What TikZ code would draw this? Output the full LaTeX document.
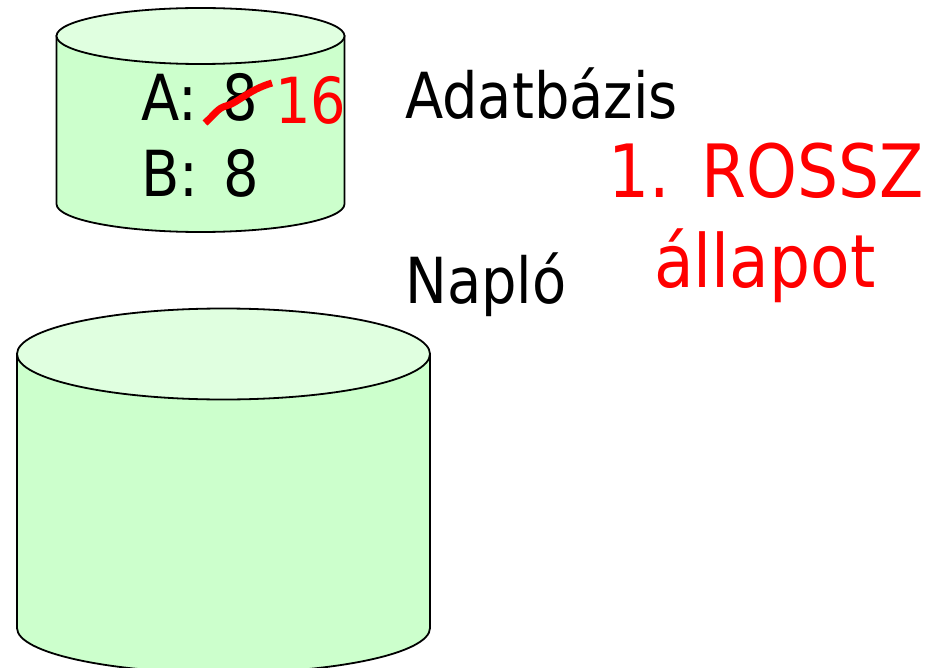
\documentclass[tikz,border=0pt]{standalone}
\usepackage{fontspec}
\setmainfont[FakeStretch=0.88,WordSpace=1.4]{DejaVu Sans}
\usetikzlibrary{positioning,calc}
\definecolor{bodygreen}{RGB}{204,255,204}
\definecolor{topgreen}{RGB}{224,255,224}
\begin{document}
\begin{tikzpicture}[x=1pt,y=-1pt,
    txt/.style={inner sep=0pt,font=\fontsize{63.5}{63.5}\selectfont,anchor=base west},
    badtxt/.style={txt,text=red,font=\fontsize{73.5}{73.5}\selectfont},
    body/.style={draw,line width=1.8pt,fill=bodygreen},
    lid/.style={draw,line width=1.8pt,fill=topgreen}]
    \useasboundingbox (0,0) rectangle (933,668);
    % adatbazis
    \draw[body] (56.5,36) -- (56.5,204) arc[start angle=180,end angle=0,x radius=144,y radius=28] -- (344.5,36) -- cycle;
    \draw[lid] (200.5,36) ellipse[x radius=144,y radius=28];
    % naplo
    \draw[body] (17,354) -- (17,628) arc[start angle=180,end angle=0,x radius=206.5,y radius=45] -- (430,354) -- cycle;
    \draw[lid] (223.5,354) ellipse[x radius=206.5,y radius=45.5];

    \node[txt] (A) at (141,121) {A: 8};
    \node[txt] (B) at (141,197) {B: 8};
    \node[txt,text=red] (V16) at (275,124) {16};
    \node[txt] (DBL) at (405,119) {Adatbázis};
    \node[txt] (LOGL) at (405,303) {Napló};
    \node[badtxt] (BAD1) at (608,198) {1.\hspace{-4pt} ROSSZ};
    \node[badtxt] (BAD2) at (654,287) {állapot};
    \draw[red,line width=7pt,line join=round] (205,123) .. controls (215,114) and (218,108) .. (226,106) .. controls (238,103) and (248,90) .. (272,83);
\end{tikzpicture}
\end{document}
